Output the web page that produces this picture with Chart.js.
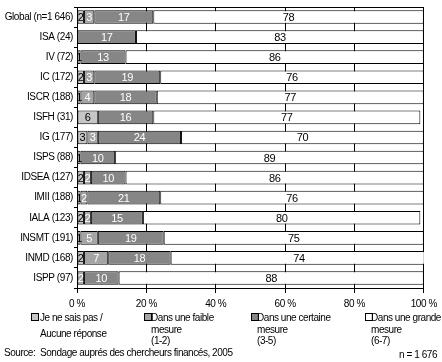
<!DOCTYPE html>
<html>
<head>
<meta charset="utf-8">
<script src="https://cdn.jsdelivr.net/npm/chart.js@4.4.0/dist/chart.umd.min.js"></script>
<style>
  body { margin: 0; background: #fff; font-family: "Liberation Sans", Arial, sans-serif; font-size: 10px; color: #000; letter-spacing: -0.45px; }
  #wrap { position: relative; width: 442px; height: 362px; overflow: hidden; }
  #chartBox { position: absolute; left: 0; top: 0; width: 442px; height: 314px; }
  .lg { position: absolute; line-height: 11.5px; white-space: nowrap; }
  .bx { position: absolute; width: 6px; height: 6px; border: 1px solid #000; }
  .src { position: absolute; left: 4px; top: 347px; }
  .n { position: absolute; right: 5px; top: 349px; }
</style>
</head>
<body>
<div id="wrap">
  <div id="chartBox"><canvas id="c" width="442" height="314"></canvas></div>

  <div class="bx" style="left:31px;top:313px;background:#c6c6c6"></div>
  <div class="lg" style="left:40px;top:312px">Je ne sais pas /</div>
  <div class="lg" style="left:40px;top:328px">Aucune réponse</div>

  <div class="bx" style="left:144px;top:313px;background:#a4a4a4"></div>
  <div class="lg" style="left:151px;top:312px">Dans une faible<br>mesure<br>(1-2)</div>

  <div class="bx" style="left:251px;top:313px;background:#868686"></div>
  <div class="lg" style="left:257px;top:312px">Dans une certaine<br>mesure<br>(3-5)</div>

  <div class="bx" style="left:365px;top:313px;background:#ffffff"></div>
  <div class="lg" style="left:371px;top:312px">Dans une grande<br>mesure<br>(6-7)</div>

  <div class="src">Source:&nbsp; Sondage auprés des chercheurs financés, 2005</div>
  <div class="n">n = 1 676</div>
</div>

<script>
// categories (top to bottom)
const categories = ['Global (n=1 646)', 'ISA (24)', 'IV (72)', 'IC (172)', 'ISCR (188)', 'ISFH (31)',
    'IG (177)', 'ISPS (88)', 'IDSEA (127)', 'IMII (188)', 'IALA (123)', 'INSMT (191)', 'INMD (168)', 'ISPP (97)'];

// series values in %
const nsp      = [2, 0, 1, 2, 1, 6, 3, 1, 2, 1, 2, 1, 2, 0];
const faible   = [3, 0, 0, 3, 4, 0, 3, 0, 2, 2, 2, 5, 7, 2];
const certaine = [17, 17, 13, 19, 18, 16, 24, 10, 10, 21, 15, 19, 18, 10];
const grande   = [78, 83, 86, 76, 77, 77, 70, 89, 86, 76, 80, 75, 74, 88];

const seriesNames = ['Je ne sais pas / Aucune réponse', 'Dans une faible mesure (1-2)',
    'Dans une certaine mesure (3-5)', 'Dans une grande mesure (6-7)'];
const xTickLabels = ['0 %', '20 %', '40 %', '60 %', '80 %', '100 %'];

const fills = ['#c6c6c6', '#a4a4a4', '#868686', '#ffffff'];
const textColors = ['#000', '#fff', '#fff', '#000'];

// tighter text, closer to the original bitmap font
const tightText = {
    id: 'tightText',
    beforeLayout(chart) { chart.ctx.letterSpacing = '-0.4px'; },
    beforeDraw(chart) { chart.ctx.letterSpacing = '-0.4px'; }
};

// values written inside the bars
const barLabels = {
    id: 'barLabels',
    afterDatasetsDraw(chart) {
        const ctx = chart.ctx;
        ctx.save();
        ctx.font = '11px "Liberation Sans", Arial, sans-serif';
        ctx.textAlign = 'center';
        ctx.textBaseline = 'middle';
        chart.data.datasets.forEach((ds, i) => {
            const meta = chart.getDatasetMeta(i);
            meta.data.forEach((el, j) => {
                const v = ds.data[j];
                if (!v) return;
                const p = el.getProps(['x', 'y', 'base'], true);
                ctx.fillStyle = textColors[i];
                ctx.fillText(String(v), (p.x + p.base) / 2, p.y + 1);
            });
        });
        ctx.restore();
    }
};

const ctx = document.getElementById('c').getContext('2d');
new Chart(ctx, {
    type: 'bar',
    data: {
        labels: categories,
        datasets: [nsp, faible, certaine, grande].map((d, i) => ({
            label: seriesNames[i],
            data: d,
            backgroundColor: fills[i],
            borderColor: '#000',
            borderWidth: 1,
            borderSkipped: false,
            barPercentage: 0.68,
            categoryPercentage: 1
        }))
    },
    options: {
        indexAxis: 'y',
        responsive: false,
        animation: false,
        layout: { padding: { top: 1, right: 15, left: 0, bottom: 0 } },
        plugins: {
            legend: { display: false },
            tooltip: { enabled: false }
        },
        scales: {
            x: {
                stacked: true,
                min: 0,
                max: 100,
                afterBuildTicks(scale) {
                    scale.ticks = xTickLabels.map((t, i) => ({ value: i * 20 }));
                },
                afterFit(scale) { scale.height = 26; },
                grid: { color: '#000', lineWidth: 1, tickLength: 5 },
                border: { color: '#000', width: 1 },
                ticks: {
                    color: '#000',
                    padding: 5,
                    maxRotation: 0,
                    font: { family: '"Liberation Sans", Arial, sans-serif', size: 10 },
                    callback: (v, i) => xTickLabels[i]
                }
            },
            xTop: {
                position: 'top',
                min: 0,
                max: 100,
                afterFit(scale) { scale.height = 0; },
                grid: { display: false, drawTicks: false },
                border: { display: true, color: '#000', width: 1 },
                ticks: { display: false }
            },
            y: {
                stacked: true,
                afterFit(scale) { scale.width = 77; },
                grid: { offset: true, drawOnChartArea: false, color: '#000', tickLength: 3 },
                border: { color: '#000', width: 1 },
                ticks: {
                    color: '#000',
                    padding: 1,
                    font: { family: '"Liberation Sans", Arial, sans-serif', size: 10 }
                }
            }
        }
    },
    plugins: [tightText, barLabels]
});
</script>
</body>
</html>
